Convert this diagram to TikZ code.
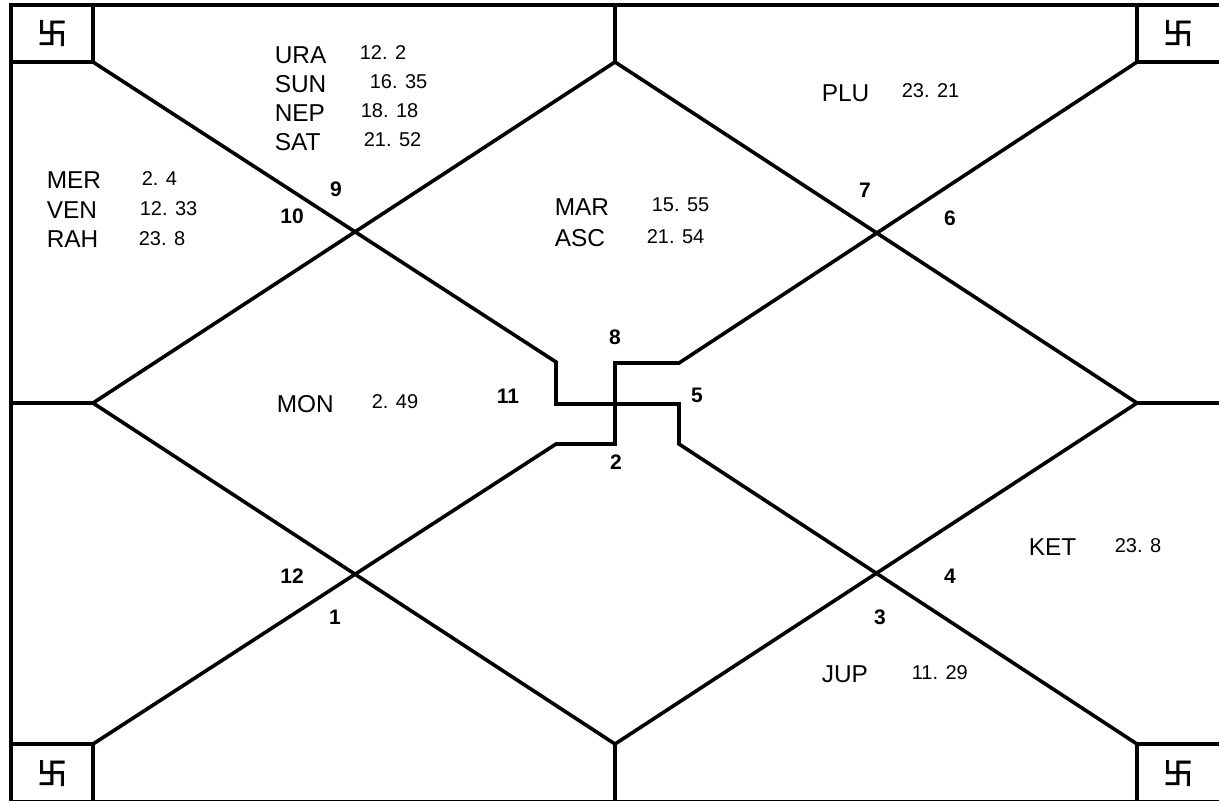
\documentclass[tikz,border=0pt]{standalone}
\usepackage{fontspec}
\setmainfont{Liberation Sans}
\newfontfamily\cjk[FakeBold=2.5]{Noto Sans CJK SC}

\tikzset{
	planet/.style={anchor=west, inner sep=0pt, font=\fontsize{12.2}{12}\selectfont},
	degree/.style={anchor=west, inner sep=0pt, font=\fontsize{10}{10}\selectfont},
	house/.style={inner sep=0pt, font=\fontsize{10.5}{10}\selectfont\bfseries},
	emblem/.style={inner sep=0pt, font=\cjk\fontsize{15}{15}\selectfont}
}

\begin{document}
\begin{tikzpicture}[x=0.5pt, y=-0.5pt, line width=1.8pt]
		\useasboundingbox (0,0) rectangle (1219,800);
		\fill[white] (0,0) rectangle (1219,800);

		\draw (11,5) rectangle (1221,802);

		\draw (11,62) -- (93,62) -- (93,5);
		\draw (1221,62) -- (1137,62) -- (1137,5);
		\draw (11,744) -- (93,744) -- (93,802);
		\draw (1221,744) -- (1137,744) -- (1137,802);

		\draw (615,62) -- (1137,403) -- (615,744) -- (93,403) -- cycle;
		\draw (615,5) -- (615,62);
		\draw (615,744) -- (615,802);
		\draw (11,403) -- (93,403);
		\draw (1137,403) -- (1221,403);

		\draw (93,62) -- (556,362) -- (556,404) -- (679,404) -- (679,444) -- (1137,744);
		\draw (93,744) -- (556,444) -- (615,444) -- (615,363) -- (679,363) -- (1137,62);

		\node[emblem] (tlsign) at (52,33) {卐};
		\node[emblem] (trsign) at (1178,33) {卐};
		\node[emblem] (blsign) at (52,773) {卐};
		\node[emblem] (brsign) at (1178,773) {卐};

		\node[planet] (ura) at (273,55) {URA};
		\node[degree] (uradeg) at (358,53) {12. 2};
		\node[planet] (sun) at (273,84) {SUN};
		\node[degree] (sundeg) at (368,82) {16. 35};
		\node[planet] (nep) at (273,113) {NEP};
		\node[degree] (nepdeg) at (359,111) {18. 18};
		\node[planet] (sat) at (273,142) {SAT};
		\node[degree] (satdeg) at (362,140) {21. 52};

		\node[planet] (mer) at (45,180) {MER};
		\node[degree] (merdeg) at (140,179) {2. 4};
		\node[planet] (ven) at (45,210) {VEN};
		\node[degree] (vendeg) at (138,209) {12. 33};
		\node[planet] (rah) at (45,239) {RAH};
		\node[degree] (rahdeg) at (137,239) {23. 8};

		\node[planet] (plu) at (820,93) {PLU};
		\node[degree] (pludeg) at (900,91) {23. 21};
		\node[planet] (mar) at (553,207) {MAR};
		\node[degree] (mardeg) at (650,205) {15. 55};
		\node[planet] (asc) at (553,238) {ASC};
		\node[degree] (ascdeg) at (645,237) {21. 54};
		\node[planet] (mon) at (275,404) {MON};
		\node[degree] (mondeg) at (370,402) {2. 49};
		\node[planet] (ket) at (1027,547) {KET};
		\node[degree] (ketdeg) at (1113,546) {23. 8};
		\node[planet] (jup) at (820,674) {JUP};
		\node[degree] (jupdeg) at (910,673) {11. 29};

		\node[house] (h1) at (335,617) {1};
		\node[house] (h2) at (616,462) {2};
		\node[house] (h3) at (880,617) {3};
		\node[house] (h4) at (950,576) {4};
		\node[house] (h5) at (697,395) {5};
		\node[house] (h6) at (950,218) {6};
		\node[house] (h7) at (865,190) {7};
		\node[house] (h8) at (615,337) {8};
		\node[house] (h9) at (336,189) {9};
		\node[house] (h10) at (292,216) {10};
		\node[house] (h11) at (508,396) {11};
		\node[house] (h12) at (292,576) {12};
	\end{tikzpicture}
\end{document}
